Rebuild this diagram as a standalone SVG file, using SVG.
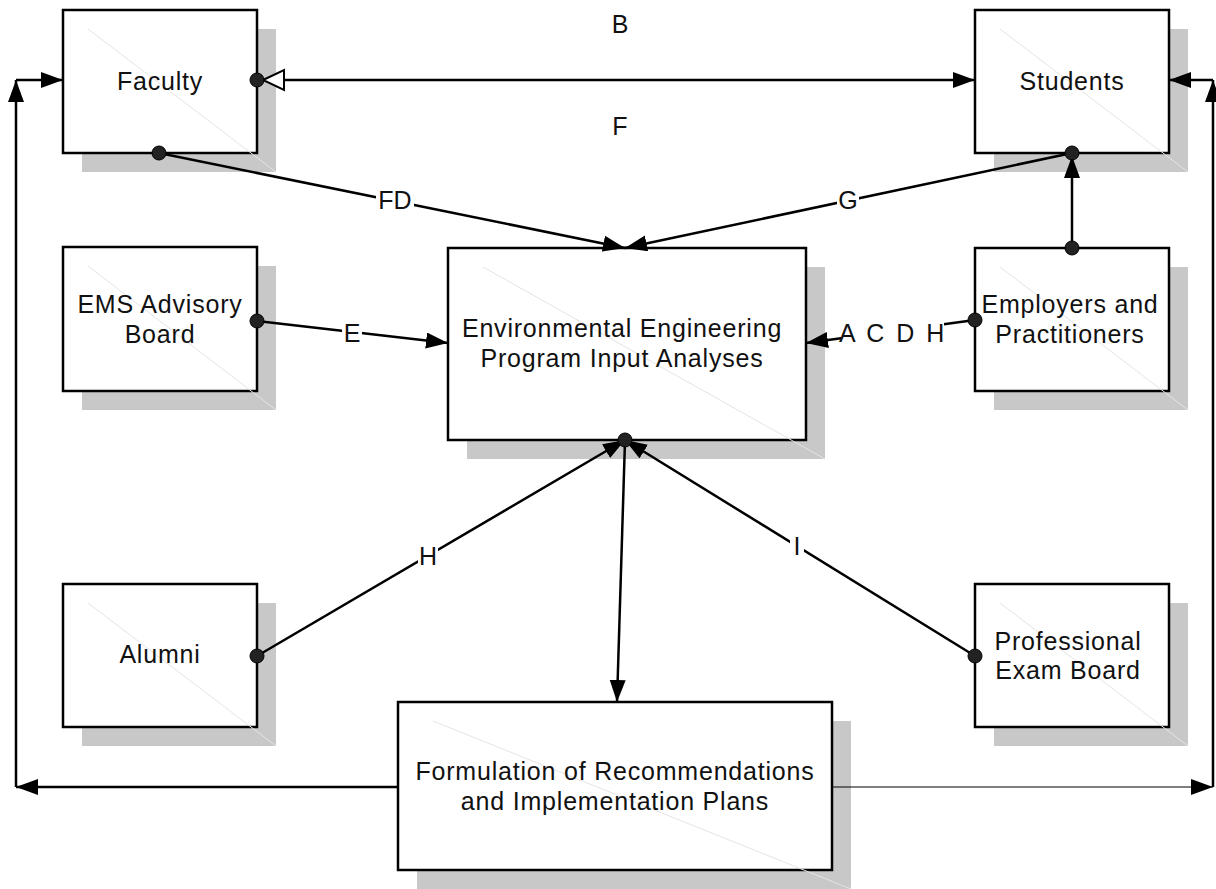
<svg xmlns="http://www.w3.org/2000/svg" width="1216" height="889" viewBox="0 0 1216 889">
<style>
.shadow{fill:#c8c8c8;stroke:none}
.box{fill:#fff;stroke:#000;stroke-width:2.5}
.diag{stroke:#e4e4e4;stroke-width:1;fill:none}
.t{font-family:"Liberation Sans",Arial,sans-serif;font-size:25px;fill:#111;text-anchor:middle;letter-spacing:0.8px}
.lbl{font-family:"Liberation Sans",Arial,sans-serif;font-size:25px;fill:#111;text-anchor:middle}
.bg{fill:#fff;stroke:none}
.c{stroke:#000;stroke-width:2.5;fill:none;marker-end:url(#arr)}
.thin{stroke-width:1.2}
.dot{fill:#222;stroke:#000;stroke-width:1}
</style>
<defs>
<marker id="arr" markerUnits="userSpaceOnUse" markerWidth="24" markerHeight="18" refX="22" refY="8" orient="auto" viewBox="0 0 24 18">
<path d="M0,0 L22,8 L0,16 z" fill="#000"/>
</marker>
</defs>
<rect width="1216" height="889" fill="#fff"/>

<g id="faculty">
<rect class="shadow" x="82" y="29" width="194" height="143"/>
<rect class="box" x="63" y="10" width="194" height="143"/>
<line class="diag" x1="88" y1="29" x2="276" y2="172"/>
<text class="t" x="160" y="90">Faculty</text>
</g>
<g id="students">
<rect class="shadow" x="994" y="29" width="194" height="143"/>
<rect class="box" x="975" y="10" width="194" height="143"/>
<line class="diag" x1="1000" y1="29" x2="1188" y2="172"/>
<text class="t" x="1072" y="90">Students</text>
</g>
<g id="ems">
<rect class="shadow" x="82" y="266" width="194" height="144"/>
<rect class="box" x="63" y="247" width="194" height="144"/>
<line class="diag" x1="88" y1="266" x2="276" y2="410"/>
<text class="t" x="160" y="313">EMS Advisory</text>
<text class="t" x="160" y="343">Board</text>
</g>
<g id="employers">
<rect class="shadow" x="994" y="267" width="194" height="143"/>
<rect class="box" x="975" y="248" width="194" height="143"/>
<line class="diag" x1="1000" y1="267" x2="1188" y2="410"/>
<text class="t" x="1070" y="313">Employers and</text>
<text class="t" x="1070" y="343">Practitioners</text>
</g>
<g id="analyses">
<rect class="shadow" x="467" y="267" width="358" height="192"/>
<rect class="box" x="448" y="248" width="358" height="192"/>
<line class="diag" x1="483" y1="267" x2="825" y2="459"/>
<text class="t" x="622" y="337">Environmental Engineering</text>
<text class="t" x="622" y="367">Program Input Analyses</text>
</g>
<g id="alumni">
<rect class="shadow" x="82" y="603" width="194" height="143"/>
<rect class="box" x="63" y="584" width="194" height="143"/>
<line class="diag" x1="88" y1="603" x2="276" y2="746"/>
<text class="t" x="160" y="663">Alumni</text>
</g>
<g id="exam">
<rect class="shadow" x="994" y="603" width="194" height="143"/>
<rect class="box" x="975" y="584" width="194" height="143"/>
<line class="diag" x1="1000" y1="603" x2="1188" y2="746"/>
<text class="t" x="1068" y="650">Professional</text>
<text class="t" x="1068" y="679">Exam Board</text>
</g>
<g id="formulation">
<rect class="shadow" x="417" y="721" width="434" height="168"/>
<rect class="box" x="398" y="702" width="434" height="168"/>
<line class="diag" x1="433" y1="721" x2="851" y2="889"/>
<text class="t" x="615" y="780">Formulation of Recommendations</text>
<text class="t" x="615" y="810">and Implementation Plans</text>
</g>

<g id="connectors">
<path class="c" d="M257,80 L975,80"/>
<path d="M263,80 L284,70 L284,90 z" fill="#fff" stroke="#000" stroke-width="2"/>
<path class="c" d="M159,153 L625,248"/>
<path class="c" d="M1072,153 L625,248"/>
<path class="c" d="M1072,248 L1072,156"/>
<path class="c" d="M257,321 L448,343"/>
<path class="c" d="M975,320 L806,343"/>
<path class="c" d="M257,656 L625,440"/>
<path class="c" d="M975,656 L625,440"/>
<path class="c" d="M625,440 L617,702"/>
<path class="c" d="M398,787 L16,787"/>
<path class="c" d="M16,787 L16,80"/>
<path class="c" d="M16,80 L63,80"/>
<path class="c thin" d="M832,787 L1213,787"/>
<path class="c" d="M1213,787 L1213,80"/>
<path class="c" d="M1213,80 L1169,80"/>
<circle class="dot" cx="257" cy="80" r="7"/>
<circle class="dot" cx="159" cy="153" r="7"/>
<circle class="dot" cx="1072" cy="153" r="7"/>
<circle class="dot" cx="1072" cy="248" r="7"/>
<circle class="dot" cx="257" cy="321" r="7"/>
<circle class="dot" cx="975" cy="320" r="7"/>
<circle class="dot" cx="625" cy="440" r="7"/>
<circle class="dot" cx="257" cy="656" r="7"/>
<circle class="dot" cx="975" cy="656" r="7"/>
<rect class="bg" x="376" y="190" width="38" height="24"/>
<rect class="bg" x="837" y="190" width="22" height="24"/>
<rect class="bg" x="342" y="322" width="20" height="24"/>
<rect class="bg" x="841" y="322" width="103" height="24"/>
<rect class="bg" x="418" y="544" width="20" height="24"/>
<rect class="bg" x="790" y="534" width="14" height="24"/>
<text class="lbl" x="620" y="33">B</text>
<text class="lbl" x="620" y="135">F</text>
<text class="lbl" x="395" y="209">FD</text>
<text class="lbl" x="848" y="209">G</text>
<text class="lbl" x="352" y="342">E</text>
<text class="lbl" x="893" y="342" style="letter-spacing:2.5px">A C D H</text>
<text class="lbl" x="428" y="565">H</text>
<text class="lbl" x="797" y="555">I</text>
</g>
</svg>
